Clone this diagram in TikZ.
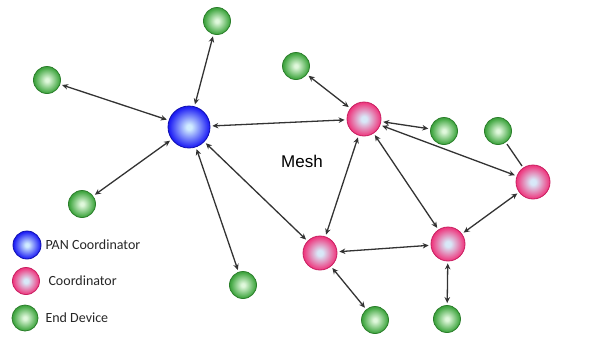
\documentclass[tikz,border=0pt]{standalone}
\usepackage{fontspec}
\setmainfont{Carlito}
\newfontfamily\meshfont{Liberation Sans}
\usetikzlibrary{arrows.meta}

\definecolor{linkgray}{HTML}{333333}
\definecolor{pancol}{HTML}{1E1EF5}
\definecolor{panedge}{HTML}{1010B0}
\definecolor{pancore}{HTML}{D0ECFF}
\definecolor{coordcol}{HTML}{EE3A80}
\definecolor{coordedge}{HTML}{C81E60}
\definecolor{coordcore}{HTML}{D8E8F8}
\definecolor{endcol}{HTML}{44A844}
\definecolor{endedge}{HTML}{2A7E2A}
\definecolor{endcore}{HTML}{E0F8DC}

\pgfdeclareradialshading{panball}{\pgfpoint{0bp}{0bp}}{color(0bp)=(pancore); color(3bp)=(pancore); color(24bp)=(pancol); color(33bp)=(panedge); color(50bp)=(panedge)}
\pgfdeclareradialshading{coordball}{\pgfpoint{0bp}{0bp}}{color(0bp)=(coordcore); color(4bp)=(coordcore); color(24bp)=(coordcol); color(33bp)=(coordedge); color(50bp)=(coordedge)}
\pgfdeclareradialshading{endball}{\pgfpoint{0bp}{0bp}}{color(0bp)=(endcore); color(3bp)=(endcore); color(23bp)=(endcol); color(33bp)=(endedge); color(50bp)=(endedge)}

\tikzset{
  pan/.style={circle, minimum size=42pt, inner sep=0pt, shading=panball, draw=panedge, line width=0.8pt},
  coord/.style={circle, minimum size=34pt, inner sep=0pt, shading=coordball, draw=coordedge, line width=0.8pt},
  enddev/.style={circle, minimum size=27pt, inner sep=0pt, shading=endball, draw=endedge, line width=0.8pt},
  link/.style={linkgray, line width=1.3pt, {Stealth[length=6pt,width=5.5pt]}-{Stealth[length=6pt,width=5.5pt]}, shorten <=2pt, shorten >=2pt},
  plainlink/.style={linkgray, line width=1.3pt, shorten <=2pt, shorten >=2pt},
  legtext/.style={anchor=west, font=\fontsize{14}{16}\selectfont, text=black!85}
}

\begin{document}
\begin{tikzpicture}[x=1pt, y=-1pt]
    \useasboundingbox (0,0) rectangle (601,341);

    % PAN coordinator and coordinators
    \node[pan] (pan) at (189,127) {};
    \node[coord] (c1) at (364,119) {};
    \node[coord] (c2) at (320,253) {};
    \node[coord] (c3) at (448,244) {};
    \node[coord] (c4) at (533,182) {};

    % End devices
    \node[enddev] (e1) at (217,21) {};
    \node[enddev] (e2) at (47,80) {};
    \node[enddev] (e3) at (82,204) {};
    \node[enddev] (e4) at (243,285) {};
    \node[enddev] (e5) at (296,66) {};
    \node[enddev] (e6) at (444,131) {};
    \node[enddev] (e7) at (498,131) {};
    \node[enddev] (e8) at (375,320) {};
    \node[enddev] (e9) at (447,319) {};

    % Links
    \draw[link] (pan) -- (e1);
    \draw[link] (pan) -- (e2);
    \draw[link] (pan) -- (e3);
    \draw[link] (pan) -- (e4);
    \draw[link] (pan) -- (c1);
    \draw[link] (pan) -- (c2);
    \draw[link] (c1) -- (e5);
    \draw[link] (c1) -- (e6);
    \draw[link] (c1) -- (c2);
    \draw[link] (c1) -- (c3);
    \draw[link] (c1) -- (c4);
    \draw[link] (c3) -- (c4);
    \draw[link] (c2) -- (c3);
    \draw[link] (c2) -- (e8);
    \draw[link] (c3) -- (e9);
    \draw[plainlink] (e7) -- (c4);

    % Mesh label
    \node[font=\meshfont\fontsize{17}{19}\selectfont] (mesh) at (302,161) {Mesh};

    % Legend
    \node[pan, minimum size=28pt] (lpan) at (27,245) {};
    \node[coord, minimum size=27pt] (lcoord) at (26,281) {};
    \node[enddev, minimum size=26pt] (lend) at (25,318) {};
    \node[legtext] (tpan) at (42,245) {PAN Coordinator};
    \node[legtext] (tcoord) at (45,281) {Coordinator};
    \node[legtext] (tend) at (42,318) {End Device};
\end{tikzpicture}
\end{document}
